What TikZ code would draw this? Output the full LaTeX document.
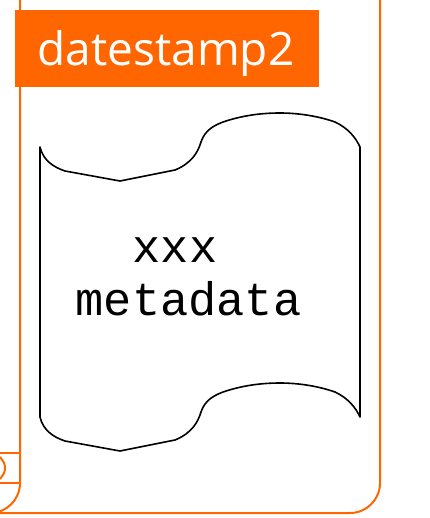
\documentclass[tikz,border=0pt]{standalone}
\usepackage{fontspec}
\newfontfamily\headfont{Open Sans}
\newfontfamily\monofont{Liberation Mono}
\definecolor{frameorange}{HTML}{FF6600}
\tikzset{
  frameline/.style={draw=frameorange, line width=2pt},
  scrollline/.style={draw=black, line width=1.6pt, line join=round},
  headlabel/.style={text=white, font=\headfont\fontsize{46}{52}\selectfont, inner sep=0pt, anchor=base},
  monotext/.style={font=\monofont\fontsize{47}{53}\selectfont, inner sep=0pt, anchor=base},
}
\begin{document}
\begin{tikzpicture}[x=1pt, y=-1pt]
\useasboundingbox (0,0) rectangle (429,518);
\clip (0,0) rectangle (429,518);
% frame
\draw[frameline] (20,-5) -- (20,483) arc[start angle=0, end angle=-90, x radius=30, y radius=-30];
\draw[frameline] (0,513) -- (350,513) arc[start angle=-90, end angle=0, x radius=30, y radius=-30] -- (380,-5);
% small tab on the left
\draw[frameline] (0,453) -- (20,453);
\draw[frameline] (0,483) -- (20,483);
\draw[frameline] (-9,468) circle[radius=14];
% header
\fill[frameorange] (15,10) rectangle (319,87);
\node[headlabel] (head) at (166,66) {datestamp2};
% scroll shape
\draw[scrollline] (40,147)
  .. controls (43,160) and (53,167) .. (65,171)
  -- (120,181) -- (175,170)
  .. controls (192,163) and (198,152) .. (201,142)
  .. controls (205,130) and (214,125) .. (226,121)
  .. controls (245,115) and (263,113) .. (280,113)
  .. controls (298,113) and (318,116) .. (335,122)
  .. controls (348,128) and (356,138) .. (360,147)
  -- (360,417)
  .. controls (356,408) and (348,398) .. (335,392)
  .. controls (318,386) and (298,383) .. (280,383)
  .. controls (263,383) and (245,385) .. (226,391)
  .. controls (214,395) and (205,400) .. (201,412)
  .. controls (198,422) and (192,433) .. (175,440)
  -- (120,451) -- (65,441)
  .. controls (53,437) and (43,430) .. (40,417)
  -- cycle;
\node[monotext] (xxx) at (175,262) {xxx};
\node[monotext] (meta) at (188.5,315) {metadata};
\end{tikzpicture}
\end{document}
